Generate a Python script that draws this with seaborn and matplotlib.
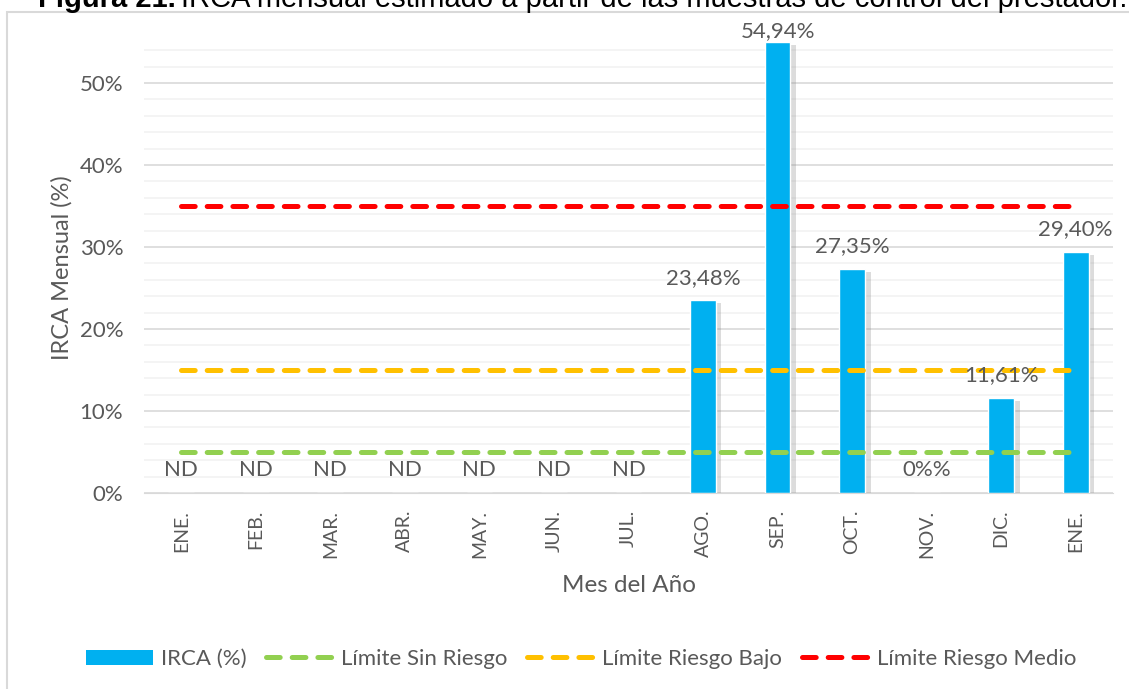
import matplotlib
matplotlib.use("Agg")
import matplotlib.pyplot as plt
import matplotlib.patheffects as pe
from matplotlib.lines import Line2D
from matplotlib.patches import Patch, Rectangle
from matplotlib.ticker import MultipleLocator, PercentFormatter
import pandas as pd
import seaborn as sns

# Data
months = ["ENE.", "FEB.", "MAR.", "ABR.", "MAY.", "JUN.", "JUL.",
          "AGO.", "SEP.", "OCT.", "NOV.", "DIC.", "ENE."]
irca = [0, 0, 0, 0, 0, 0, 0, 23.48, 54.94, 27.35, 0, 11.61, 29.40]
bar_labels = ["ND", "ND", "ND", "ND", "ND", "ND", "ND",
              "23,48%", "54,94%", "27,35%", "0%%", "11,61%", "29,40%"]
limits = {
    "Límite Sin Riesgo": 5,
    "Límite Riesgo Bajo": 15,
    "Límite Riesgo Medio": 35,
}
limit_colors = ["#92D050", "#FFC000", "#FF0000"]

sns.set_style("white")
plt.rcParams["font.family"] = ["Lato", "DejaVu Sans"]
GRAY = "#595959"
DASH = [2.74, 2.4]
LW = 3.6

df = pd.DataFrame({"pos": range(len(months)), "irca": irca})

fig = plt.figure(figsize=(11.29, 6.89), dpi=100)
fig.patches.append(Rectangle((7 / 1129, -0.05), 1.2, 1 - 12 / 689 + 0.05,
                             transform=fig.transFigure, fill=False,
                             edgecolor="#d9d9d9", linewidth=1.5))

ax = fig.add_axes([144 / 1129, (689 - 493) / 689, (1113 - 144) / 1129, 451 / 689])

# limit lines
for (name, val), col in zip(limits.items(), limit_colors):
    ldf = pd.DataFrame({"pos": range(len(months)), "v": [val] * len(months)})
    sns.lineplot(data=ldf, x="pos", y="v", ax=ax, color=col, linewidth=LW,
                 zorder=3, legend=False)
    ln = ax.lines[-1]
    ln.set_dashes(DASH)
    ln.set_dash_capstyle("round")

sns.barplot(data=df, x="pos", y="irca", ax=ax, color="#00B0F0",
            saturation=1, width=0.345, zorder=2, legend=False)
for p in ax.patches:
    p.set_path_effects([pe.SimplePatchShadow(offset=(4, -2), shadow_rgbFace="#8c8c8c",
                                             alpha=0.3), pe.Normal()])

# the tallest bar's label sits tight on top of the bar (no room above)
top_i = irca.index(max(irca))
normal = [lab if i != top_i else "" for i, lab in enumerate(bar_labels)]
tight = [lab if i == top_i else "" for i, lab in enumerate(bar_labels)]
ax.bar_label(ax.containers[0], labels=normal, padding=9,
             fontsize=16, color=GRAY, zorder=5)
ax.bar_label(ax.containers[0], labels=tight, padding=1,
             fontsize=16, color=GRAY, zorder=5)

ax.set_ylim(0, 55)
ax.set_xlim(-0.5, len(months) - 0.5)
ax.yaxis.set_major_locator(MultipleLocator(10))
ax.yaxis.set_minor_locator(MultipleLocator(2))
ax.yaxis.set_major_formatter(PercentFormatter(decimals=0))
ax.grid(True, which="major", axis="y", color="#d9d9d9", linewidth=1.2, zorder=0)
ax.grid(True, which="minor", axis="y", color="#f2f2f2", linewidth=1.2, zorder=0)
ax.set_axisbelow(True)
for s in ["top", "right", "left"]:
    ax.spines[s].set_visible(False)
ax.spines["bottom"].set_color("#d9d9d9")
ax.tick_params(axis="both", which="both", length=0, colors=GRAY)
ax.tick_params(axis="y", labelsize=16, pad=15)
ax.set_xticks(range(len(months)))
ax.set_xticklabels(months, rotation=90)
ax.tick_params(axis="x", labelsize=14, pad=12)

ax.set_xlabel("Mes del Año", fontsize=17.5, color=GRAY)
ax.xaxis.set_label_coords(0.5, -0.182)
ax.set_ylabel("IRCA Mensual (%)", fontsize=17, color=GRAY)
ax.yaxis.set_label_coords(-0.0735, 0.5)

handles = [Patch(facecolor="#00B0F0", edgecolor="none")]
for col in limit_colors:
    handles.append(Line2D([0], [0], color=col, linewidth=LW,
                          dashes=DASH, dash_capstyle="round"))
fig.legend(handles, ["IRCA (%)"] + list(limits.keys()), loc="center",
           bbox_to_anchor=(581 / 1129, 1 - 659 / 689), ncol=4, frameon=False,
           fontsize=16, labelcolor=GRAY, handlelength=3.0, handleheight=0.65,
           columnspacing=0.9, handletextpad=0.36)

# Title (cut off at the top edge as in the reference)
ty = 1 - 7 / 689
t1 = fig.text(38 / 1129, ty, "Figura 21.", fontsize=21, fontweight="bold",
              family="Liberation Sans", va="baseline", color="black")
fig.canvas.draw()
bb = t1.get_window_extent()
fig.text(bb.x1 / fig.bbox.width + 5 / 1129, ty,
         "IRCA mensual estimado a partir de las muestras de control del prestador.",
         fontsize=21, family="Liberation Sans", va="baseline", color="black")

fig.savefig("out.png", dpi=100)
